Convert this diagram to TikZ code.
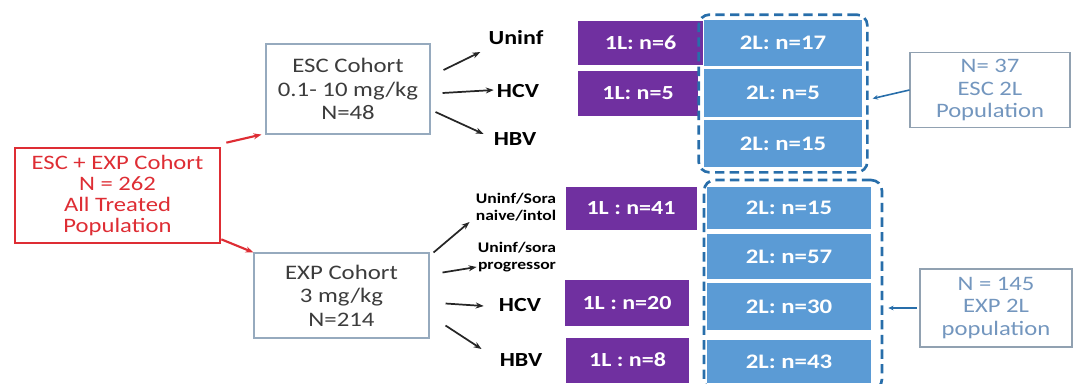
\documentclass[tikz,border=0pt]{standalone}
\usepackage{fontspec}
\setmainfont[FakeStretch=1.2]{Carlito}
\usetikzlibrary{
    arrows.meta,
    positioning,
    fit
}
\definecolor{PopRed}{RGB}{222,45,52}
\definecolor{LineL}{RGB}{112,48,160}
\definecolor{LineII}{RGB}{91,155,213}
\definecolor{DashBlue}{RGB}{40,110,170}
\definecolor{BoxGrey}{RGB}{150,170,190}
\definecolor{NoteText}{RGB}{115,150,190}
\definecolor{CohortText}{RGB}{60,60,60}
\tikzset{
  sz/.style 2 args = {minimum width=#1*0.75pt, minimum height=#2*0.75pt},
  cohort/.style  = {draw=BoxGrey, line width=0.8pt, align=center, text=CohortText,
                    font=\fontsize{15.5}{17.6}\selectfont},
  allpop/.style  = {draw=PopRed, line width=2pt, align=center, text=PopRed,
                    font=\fontsize{15.4}{15.7}\selectfont},
  grp/.style     = {inner sep=0pt, align=center, font=\bfseries\fontsize{15}{16}\selectfont},
  sgrp/.style    = {inner sep=0pt, align=center, font=\bfseries\fontsize{11}{13}\selectfont},
  firstl/.style  = {fill=LineL, text=white, font=\bfseries\fontsize{15}{16}\selectfont},
  secondl/.style = {fill=LineII, text=white, font=\bfseries\fontsize{15.5}{16}\selectfont},
  popbox/.style  = {draw=DashBlue, line width=2pt, dash pattern=on 7pt off 4pt,
                    rounded corners=8pt},
  note/.style    = {draw=BoxGrey!80!gray, line width=0.8pt, align=center, text=NoteText,
                    font=\fontsize{15.4}{16.8}\selectfont},
  arr/.style     = {-{Stealth[length=6pt,width=4.5pt]}, line width=1.3pt, black!85},
  arrr/.style    = {-{Stealth[length=6pt,width=4.5pt]}, line width=1.6pt, PopRed},
  arrn/.style    = {-{Stealth[length=4pt,width=3.5pt]}, line width=1.2pt, DashBlue}
}

\begin{document}
\begin{tikzpicture}[x=0.75pt,y=-0.75pt]
\useasboundingbox (0,0) rectangle (1073,383);

\node[allpop, sz={205}{95}] (all) at (117.5,195.5)
  {ESC + EXP Cohort\\N = 262\\All Treated\\Population};
\node[cohort, sz={164}{90}] (esc) at (348,89)
  {ESC Cohort\\0.1- 10 mg/kg\\N=48};
\node[cohort, sz={175}{85}] (exp) at (341.5,295.5)
  {EXP Cohort\\3 mg/kg\\N=214};

\node[grp] (uninfA) at (516,38) {Uninf};
\node[grp] (hcvA) at (518,91) {HCV};
\node[grp] (hbvA) at (515,139) {HBV};
\node[sgrp] (uninfB) at (516,207) {Uninf/Sora\\naive/intol};
\node[sgrp] (progB) at (517,257) {Uninf/sora\\progressor};
\node[grp] (hcvB) at (520,305) {HCV};
\node[grp] (hbvB) at (521,360) {HBV};

\node[firstl, sz={125}{44}] (p1) at (640.5,42.5) {1L: n=6};
\node[firstl, sz={120}{45}] (p2) at (638,93.5) {1L: n=5};
\node[firstl, sz={131}{43}] (p3) at (631,208.5) {1L : n=41};
\node[firstl, sz={124}{46}] (p4) at (627,303) {1L : n=20};
\node[firstl, sz={123}{45}] (p5) at (627.5,360) {1L : n=8};

\node[secondl, sz={158}{46}] (b1) at (783,43) {2L: n=17};
\node[secondl, sz={158}{48}] (b2) at (783,93) {2L: n=5};
\node[secondl, sz={158}{47}] (b3) at (783,143.5) {2L: n=15};
\node[secondl, sz={164}{42}] (c1) at (789,208) {2L: n=15};
\node[secondl, sz={164}{45}] (c2) at (789,256.5) {2L: n=57};
\node[secondl, sz={164}{47}] (c3) at (789,306.5) {2L: n=30};
\node[secondl, sz={164}{43}] (c4) at (789,361.5) {2L: n=43};

\node[popbox, fit=(b1)(b3), inner sep=3.8pt] (escpop) {};
\node[popbox, fit=(c1)(c4), inner sep=5pt, xshift=3pt] (exppop) {};

\node[note, sz={160}{75}] (escnote) at (990,90)
  {N= 37\\ESC 2L\\Population};
\node[note, sz={152}{78}] (expnote) at (996,308)
  {N = 145\\EXP 2L\\population};

\draw[arrr] ([shift={(5,-4)}]all.north east) -- ([shift={(-4,0)}]esc.south west);
\draw[arrr] ([shift={(0,-5)}]all.south east) -- (exp.north west);

\draw[arr] ([shift={(13,-19)}]esc.east) -- ([shift={(-8,14)}]uninfA.west);
\draw[arr] ([shift={(12,4)}]esc.east) -- ([shift={(-3,-1)}]hcvA.west);
\draw[arr] ([shift={(5,23)}]esc.east) -- ([shift={(-10,-5)}]hbvA.west);

\draw[arr] ([shift={(4,-43)}]exp.east) -- ([shift={(-6,15)}]uninfB.west);
\draw[arr] ([shift={(13,-23)}]exp.east) -- ([shift={(-1,10)}]progB.west);
\draw[arr] ([shift={(16,8)}]exp.east) -- ([shift={(-15,1)}]hcvB.west);
\draw[arr] ([shift={(16,30)}]exp.east) -- ([shift={(-18,-11)}]hbvB.west);

\draw[arrn] (escnote.west) -- ([shift={(4,5)}]escpop.east);
\draw[arrn] ([xshift=-2]expnote.west) -- ([shift={(5,0)}]exppop.east |- expnote.west);
\end{tikzpicture}
\end{document}
